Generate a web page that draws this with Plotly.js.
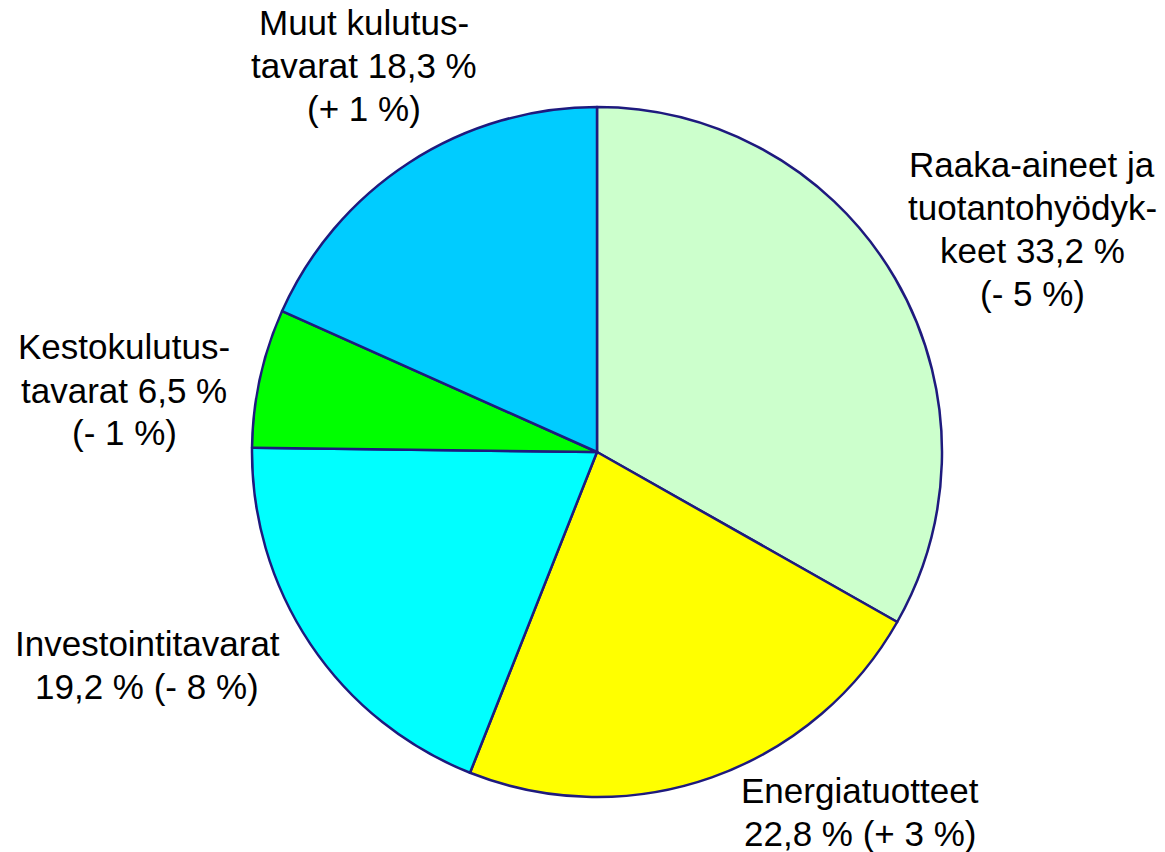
<!DOCTYPE html>
<html>
<head>
<meta charset="utf-8">
<script src="https://cdn.plot.ly/plotly-3.0.1.min.js"></script>
<style>html,body{margin:0;padding:0;background:#fff;}#chart{width:1165px;height:852px;}</style>
</head>
<body>
<div id="chart"></div>
<script>
const categories = ["Raaka-aineet ja tuotantohyödykkeet", "Energiatuotteet", "Investointitavarat", "Kestokulutustavarat", "Muut kulutustavarat"];
const shares = [33.2, 22.8, 19.2, 6.5, 18.3];
const changes = ["- 5 %", "+ 3 %", "- 8 %", "- 1 %", "+ 1 %"];
const sliceColors = ["#CCFFCC", "#FFFF00", "#00FFFF", "#00FF00", "#00CCFF"];
const labelLines = [
  ["Raaka-aineet ja", "tuotantohyödyk-", "keet 33,2 %", "(- 5 %)"],
  ["Energiatuotteet", "22,8 % (+ 3 %)"],
  ["Investointitavarat", "19,2 % (- 8 %)"],
  ["Kestokulutus-", "tavarat 6,5 %", "(- 1 %)"],
  ["Muut kulutus-", "tavarat 18,3 %", "(+ 1 %)"]
];
// label block centres in pixels (x, y from top)
const labelPos = [[1032, 229], [860, 812], [147, 665], [124, 390], [364, 65]];
const lineStep = 43;

const W = 1165, H = 852;
const cx = 597, cy = 452, r = 345;

const trace = {
  type: "pie",
  labels: categories,
  values: shares,
  sort: false,
  direction: "clockwise",
  rotation: 0,
  marker: {colors: sliceColors, line: {color: "#1E1A7E", width: 2.5}},
  textinfo: "none",
  hoverinfo: "none",
  showlegend: false,
  domain: {x: [(cx - r) / W, (cx + r) / W], y: [(H - cy - r) / H, (H - cy + r) / H]}
};

const annotations = [];
labelLines.forEach((lines, i) => {
  const n = lines.length;
  lines.forEach((t, j) => {
    const ypx = labelPos[i][1] + (j - (n - 1) / 2) * lineStep;
    annotations.push({
      text: t,
      xref: "paper", yref: "paper",
      x: labelPos[i][0] / W, y: 1 - ypx / H,
      xanchor: "center", yanchor: "middle",
      align: "center",
      showarrow: false,
      font: {family: "Liberation Sans, Arial, sans-serif", size: 35, color: "#000"}
    });
  });
});

Plotly.newPlot("chart", [trace], {
  width: W, height: H,
  margin: {l: 0, r: 0, t: 0, b: 0},
  paper_bgcolor: "#fff",
  annotations: annotations
}, {staticPlot: true});
</script>
</body>
</html>
